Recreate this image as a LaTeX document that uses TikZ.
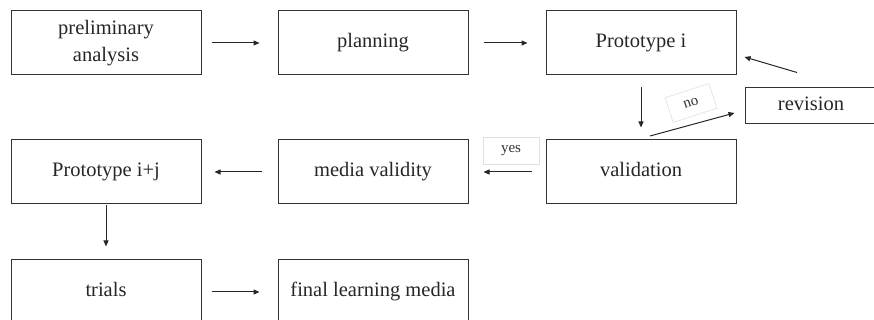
\documentclass[tikz,border=0pt]{standalone}
\usepackage{fontspec}
\setmainfont{Liberation Serif}
\usepackage{xcolor}
\usetikzlibrary{arrows.meta, positioning, calc}

\tikzset{
  boxbase/.style={draw=black!80, line width=1pt, minimum width=190pt, minimum height=64pt,
    align=center, inner sep=0pt, text=black!85, font=\fontsize{20.5}{27}\selectfont},
  stagebox/.style={boxbase, text height=14pt, text depth=5pt},
  flow/.style={draw=black!85, line width=1pt, -{Triangle[length=6pt,width=5pt]}},
  tag/.style={draw=black!12, line width=0.6pt, fill=white, text=black!80,
    font=\fontsize{15}{17}\selectfont, inner sep=0pt}
}

\begin{document}
\begin{tikzpicture}[x=1pt, y=1pt]
  \useasboundingbox (0,0) rectangle (874,320);
  % first row
  \node[boxbase] (prelim) at (106,277) {preliminary\\analysis};
  \node[stagebox] (planning) at (373,277) {planning};
  \node[stagebox] (proto) at (641,277) {Prototype i};
  \node[stagebox, minimum width=132pt, minimum height=36pt] (revision) at (811,214) {revision};
  % second row
  \node[stagebox] (validation) at (641,148) {validation};
  \node[stagebox] (media) at (373,148) {media validity};
  \node[stagebox] (protoij) at (106,148) {Prototype i+j};
  % last row
  \node[stagebox] (trials) at (106,28) {trials};
  \node[stagebox] (final) at (373,28) {final learning media};

  \node[tag, minimum width=56pt, minimum height=27pt] (yes) at (511,169) {yes};
  \node[tag, minimum width=46pt, minimum height=26pt, rotate=18] (no) at (691,217) {no};

  \draw[flow, shorten <=10pt, shorten >=18pt] (prelim) -- (planning);
  \draw[flow, shorten <=15pt, shorten >=18pt] (planning) -- (proto);
  \draw[flow, shorten <=12pt, shorten >=12pt] (proto) -- (validation);
  \draw[flow, shorten <=14pt, shorten >=15pt] (validation) -- (media);
  \draw[flow, shorten <=16pt, shorten >=13pt] (media) -- (protoij);
  \draw[flow, shorten <=1pt, shorten >=13pt] (protoij) -- (trials);
  \draw[flow, shorten <=10pt, shorten >=18pt] (trials) -- (final);
  % loop back through revision
  \coordinate (nostart) at (650,184);
  \draw[flow] (nostart) -- ([xshift=-10pt, yshift=-7pt]revision.west);
  \draw[flow] ([xshift=-14pt, yshift=15pt]revision.north) -- ([xshift=8pt, yshift=-14pt]proto.east);
\end{tikzpicture}
\end{document}
